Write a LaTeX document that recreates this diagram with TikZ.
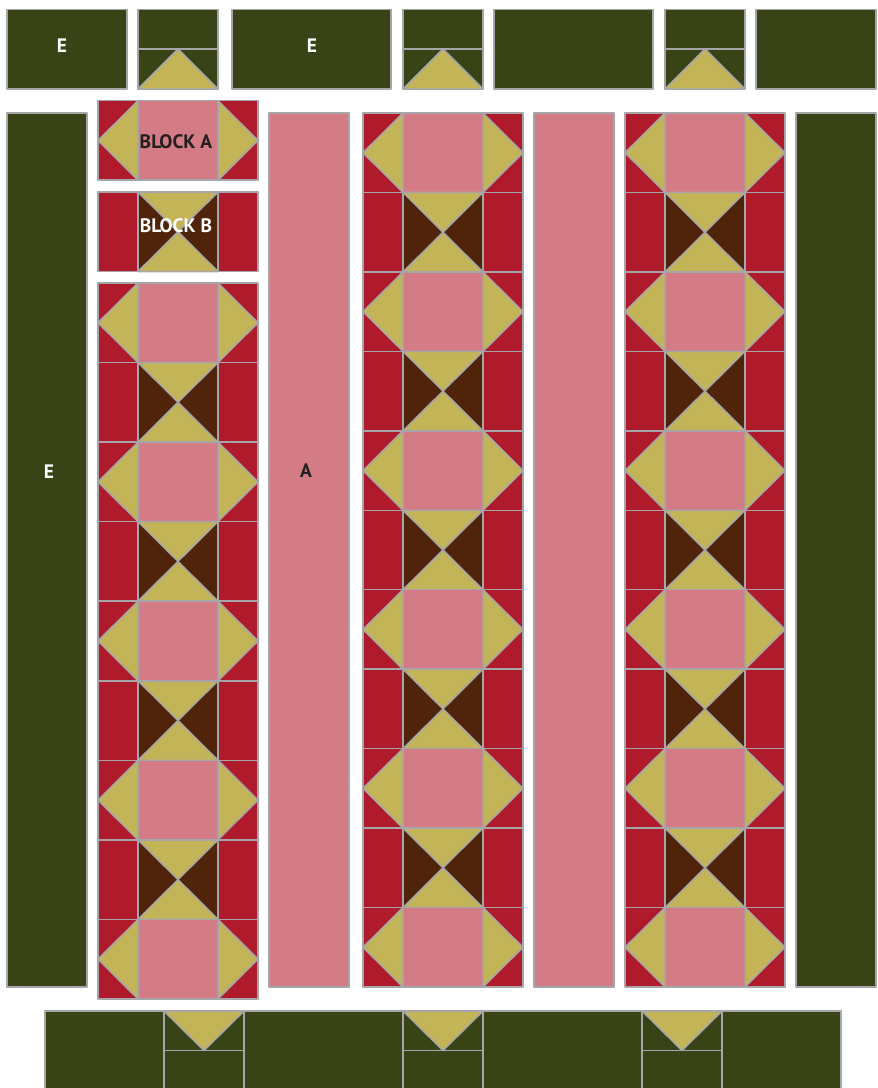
\documentclass[tikz,border=0pt]{standalone}
\usepackage{fontspec}
\setmainfont{PT Sans}
\usetikzlibrary{positioning}
\definecolor{moss}{RGB}{56,68,22}
\definecolor{straw}{RGB}{196,180,88}
\definecolor{rose}{RGB}{212,124,134}
\definecolor{berry}{RGB}{176,27,43}
\definecolor{umber}{RGB}{79,36,10}
\definecolor{seam}{RGB}{165,165,170}
\definecolor{ink}{RGB}{35,31,32}
\tikzset{
    seamline/.style={
        draw=seam,
        line width=1.5pt,
        line join=round
    },
    greenbox/.style={fill=moss, seamline},
    rosebox/.style={fill=rose, seamline},
    tag/.style={
        font=\bfseries\fontsize{19.5}{21}\selectfont,
        text=white,
        inner sep=0pt
    },
    pics/blocka/.style={code={
        \fill[berry] (0,0) rectangle (160,79.5);
        \fill[rose] (40,0) rectangle (120,79.5);
        \filldraw[fill=straw, seamline] (40,0) -- (0,39.75) -- (40,79.5) -- cycle;
        \filldraw[fill=straw, seamline] (120,0) -- (160,39.75) -- (120,79.5) -- cycle;
        \draw[seamline] (0,0) rectangle (160,79.5);
    }},
    pics/blockb/.style={code={
        \fill[berry] (0,0) rectangle (160,79.5);
        \filldraw[fill=umber, seamline] (40,0) rectangle (120,79.5);
        \filldraw[fill=straw, seamline] (40,0) -- (80,39.75) -- (120,0) -- cycle;
        \filldraw[fill=straw, seamline] (40,79.5) -- (80,39.75) -- (120,79.5) -- cycle;
        \draw[seamline] (0,0) rectangle (160,79.5);
    }},
    pics/borderup/.style={code={
        \filldraw[greenbox] (0,0) rectangle (80,79.5);
        \draw[seamline] (0,39.5) -- (80,39.5);
        \filldraw[fill=straw, seamline] (0,79.5) -- (40,39.5) -- (80,79.5) -- cycle;
    }},
    pics/borderdown/.style={code={
        \filldraw[greenbox] (0,0) rectangle (80,79.5);
        \draw[seamline] (0,39.5) -- (80,39.5);
        \filldraw[fill=straw, seamline] (0,0) -- (40,39.5) -- (80,0) -- cycle;
    }}
}

\begin{document}
\begin{tikzpicture}[
    x=1pt,
    y=-1pt
]

    \clip (0,0) rectangle (878,1088);
    \fill[white] (0,0) rectangle (878,1088);

    % top border
    \foreach \x/\w in {7/120, 232/159, 494/159, 756/120}
        \filldraw[greenbox] (\x,9.5) rectangle ++(\w,79.5);
    \foreach \x in {138, 403, 665}
        \pic at (\x,9.5) {borderup};

    % side borders and plain strips
    \filldraw[greenbox] (7,113) rectangle (87,987);
    \filldraw[greenbox] (796,113) rectangle (876,987);
    \filldraw[rosebox] (269,113) rectangle (349,987);
    \filldraw[rosebox] (534,113) rectangle (614,987);

    % sample blocks
    \pic at (98,100.7) {blocka};
    \pic at (98,192) {blockb};

    % first pieced column
    \foreach \i in {0,...,8} {
        \ifodd\i
            \pic at (98,{283+79.55*\i}) {blockb};
        \else
            \pic at (98,{283+79.55*\i}) {blocka};
        \fi
    }

    % second and third pieced columns
    \foreach \x in {363, 625} {
        \foreach \i in {0,...,10} {
            \ifodd\i
                \pic at (\x,{113+79.45*\i}) {blockb};
            \else
                \pic at (\x,{113+79.45*\i}) {blocka};
            \fi
        }
    }

    % bottom border
    \foreach \x/\w in {45/119, 244/159, 483/159, 722/119}
        \filldraw[greenbox] (\x,1011) rectangle ++(\w,79.5);
    \foreach \x in {164, 403, 642}
        \pic at (\x,1011) {borderdown};

    % Etiquetas
    \node[tag]           (topE)    at (62,46)   {E};
    \node[tag]           (midE)    at (312,46)  {E};
    \node[tag]           (sideE)   at (49,472)  {E};
    \node[tag, text=ink] (stripA)  at (306,471) {A};
    \node[tag, text=ink] (nameA)   at (176,142) {BLOCK A};
    \node[tag]           (nameB)   at (176,226) {BLOCK B};

\end{tikzpicture}
\end{document}
